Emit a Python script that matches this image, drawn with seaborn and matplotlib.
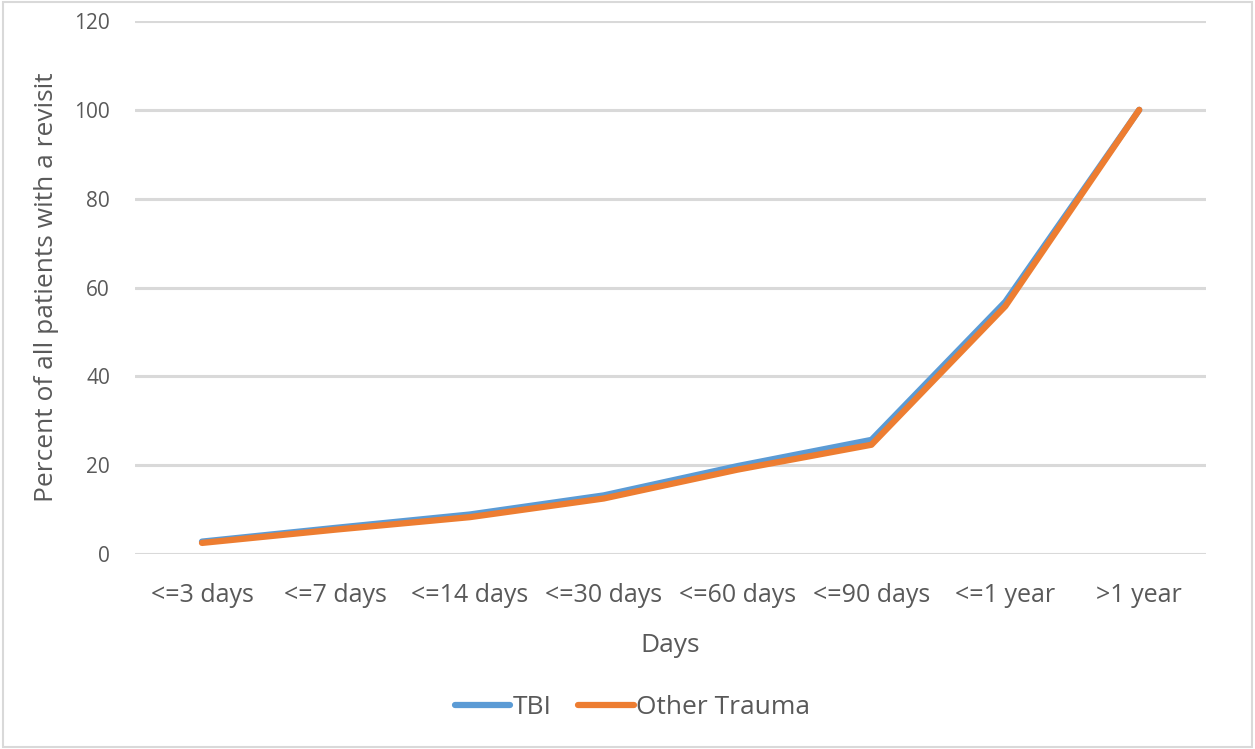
import numpy as np
import pandas as pd
import matplotlib
matplotlib.use("Agg")
import matplotlib.pyplot as plt
import seaborn as sns
from matplotlib.patches import Rectangle

categories = ["<=3 days", "<=7 days", "<=14 days", "<=30 days",
              "<=60 days", "<=90 days", "<=1 year", ">1 year"]
tbi = [2.8, 5.9, 8.9, 13.2, 19.8, 25.7, 56.8, 100.0]
other_trauma = [2.5, 5.5, 8.3, 12.5, 19.0, 24.6, 55.8, 100.0]
series_names = ["TBI", "Other Trauma"]
colors = ["#5B9BD5", "#ED7D31"]
y_ticks = [0, 20, 40, 60, 80, 100, 120]

TEXT = "#595959"


def main():
    df = pd.DataFrame({
        "Days": categories * 2,
        "value": tbi + other_trauma,
        "series": [series_names[0]] * len(categories) + [series_names[1]] * len(categories),
    })

    sns.set_style("white")
    plt.rcParams["font.family"] = ["Open Sans", "DejaVu Sans"]

    fig = plt.figure(figsize=(12.55, 7.49), dpi=100)
    ax = fig.add_axes([0.1076, 0.2603, 0.8535, 0.7117])

    ax.set_ylim(0, 120)
    ax.set_yticks(y_ticks)
    for yv in y_ticks:
        ax.axhline(yv, color="#D9D9D9", lw=2.2, zorder=0)

    sns.lineplot(
        data=df, x="Days", y="value", hue="series",
        palette=colors, hue_order=series_names, sort=False,
        lw=4.5, ax=ax, legend=False, solid_capstyle="round",
    )
    ax.set_xlim(-0.5, len(categories) - 0.5)
    ax.set_xticks(range(len(categories)))
    ax.set_xticklabels(categories)

    for s in ax.spines.values():
        s.set_visible(False)
    ax.tick_params(axis="both", length=0, labelcolor=TEXT)
    ax.tick_params(axis="x", pad=21, labelsize=18)
    ax.tick_params(axis="y", pad=18, labelsize=15)
    ax.set_xlabel("Days", color=TEXT, fontsize=19, labelpad=18)
    ax.set_ylabel("Percent of all patients with a revisit", color=TEXT, fontsize=19, labelpad=11)

    handles = [plt.Line2D([0], [0], color=c, lw=4.5, solid_capstyle="round") for c in colors]
    fig.legend(handles, series_names, loc="center", bbox_to_anchor=(0.504, 0.055),
               ncol=2, frameon=False, fontsize=19, labelcolor=TEXT,
               handlelength=2.1, handletextpad=0.1, columnspacing=1.0)

    fig.patches.append(Rectangle((0.002, 0.003), 0.996, 0.994, transform=fig.transFigure,
                                 fill=False, edgecolor="#D9D9D9", lw=1.5))

    fig.savefig("out.png", dpi=100, facecolor="white")


if __name__ == "__main__":
    main()
